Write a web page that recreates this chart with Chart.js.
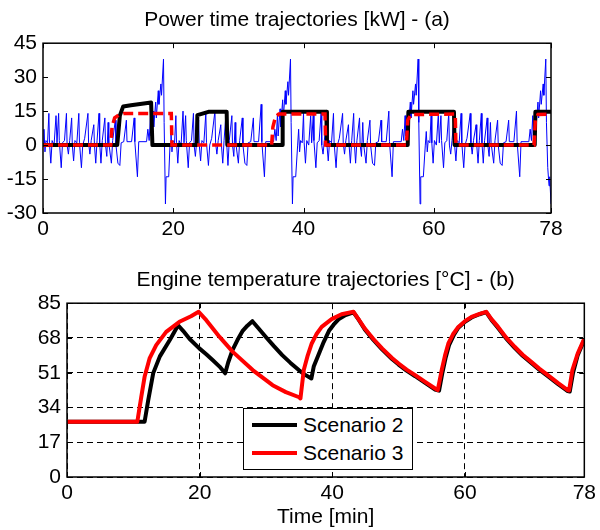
<!DOCTYPE html>
<html>
<head>
<meta charset="utf-8">
<script src="https://cdn.jsdelivr.net/npm/chart.js@4.4.1/dist/chart.umd.min.js"></script>
<style>
  body { margin: 0; background: #fff; }
  #wrap { position: relative; width: 600px; height: 530px; }
  canvas { position: absolute; left: 0; }
  #chartPower { top: 0; }
  #chartTemp { top: 260px; }
  #legendTemp {
    position: absolute; left: 243px; top: 408px; width: 170px; height: 62px;
    box-sizing: border-box; border: 1px solid #000; background: #fff;
    font-family: 'Liberation Sans', Arial, sans-serif; font-size: 21px; color: #000;
  }
  .legend-row { position: absolute; left: 8px; height: 26px; display: flex; align-items: center; }
  .legend-line { width: 45px; height: 4px; margin-right: 6px; }
</style>
</head>
<body>
<div id="wrap">
  <canvas id="chartPower" width="600" height="260"></canvas>
  <canvas id="chartTemp" width="600" height="270"></canvas>
  <div id="legendTemp"></div>
</div>
<script>
// ---- data ----
const xTicks = [0, 20, 40, 60, 78];
const powerTicks = [-30, -15, 0, 15, 30, 45];
const tempTicks = [0, 17, 34, 51, 68, 85];
const scenarioLabels = ['Scenario 2', 'Scenario 3'];

// power demand (thin blue), [min, kW]
const demandPoints = [
  [0,0],[0.15,7],[0.3,-3],[0.45,2],[0.7,1],[0.9,14],[1.0,1],[1.2,-8],[1.4,2],[1.7,0],
  [2.0,13],[2.15,1],[2.4,14],[2.5,2],[2.8,-10],[3.0,1],[3.3,2],[3.6,14],[3.7,0],[3.9,-4],
  [4.1,2],[4.4,12],[4.5,0],[4.7,-7],[4.9,2],[5.2,1],[5.5,14],[5.6,1],[5.9,-10],[6.1,0],
  [6.4,3],[6.9,14],[7.0,1],[7.2,-4],[7.4,2],[7.8,9],[7.9,0],[8.1,-8],[8.3,2],[8.6,14],
  [8.7,1],[8.9,-8],[9.1,2],[9.5,12],[9.6,0],[9.8,-5],[10.0,10],[10.1,1],[10.5,-8],[10.7,2],
  [11.1,11],[11.2,0],[11.5,-8],[11.8,-9],[12.0,1],[12.4,1.5],[12.8,11],[12.9,1.5],[13.6,1.5],[14.0,12],
  [14.1,1.5],[14.5,-14],[14.7,1.5],[15.9,1.5],[16.1,7],[16.3,2],[16.5,13],[16.6,4],[16.9,15],[17.0,8],
  [17.3,19],[17.4,12],[17.7,24],[17.8,18],[18.1,27],[18.2,22],[18.5,38],[18.6,10],[18.8,-26],[18.9,-14],
  [19.3,-14],[19.5,0],
  [19.65,6],[19.8,-3],[19.95,2],[20.2,1],[20.4,13],[20.5,1],[20.7,-8],[20.9,2],[21.2,0],
  [21.5,15],[21.65,1],[21.9,13],[22.0,2],[22.3,-10],[22.5,1],[22.8,2],[23.1,14],[23.2,0],[23.4,-5],
  [23.6,2],[23.9,11],[24.0,0],[24.2,-7],[24.4,2],[24.7,1],[25.0,14],[25.1,1],[25.4,-9],[25.6,0],
  [25.9,3],[26.4,15],[26.5,1],[26.7,-4],[26.9,2],[27.3,9],[27.4,0],[27.6,-8],[27.8,2],[28.1,14],
  [28.2,1],[28.4,-9],[28.6,2],[29.0,13],[29.1,0],[29.3,-5],[29.5,10],[29.6,1],[30.0,-8],[30.2,2],
  [30.6,12],[30.7,0],[31.0,-8],[31.3,-9],[31.5,1],[31.9,1.5],[32.3,12],[32.4,1.5],[33.1,1.5],[33.5,18],
  [33.6,1.5],[34.0,-14],[34.2,1.5],[35.4,1.5],[35.6,7],[35.8,2],[36.0,14],[36.1,4],[36.4,16],[36.5,8],
  [36.8,20],[36.9,12],[37.2,24],[37.3,18],[37.6,28],[37.7,22],[38.0,38],[38.1,10],[38.3,-26],[38.4,-14],
  [38.8,-14],[39.1,0],
  [39.25,7],[39.4,-3],[39.55,2],[39.8,1],[40.0,14],[40.1,1],[40.3,-8],[40.5,2],[40.8,0],
  [41.1,13],[41.25,1],[41.5,14],[41.6,2],[41.9,-10],[42.1,1],[42.4,2],[42.7,14],[42.8,0],[43.0,-4],
  [43.2,2],[43.5,12],[43.6,0],[43.8,-7],[44.0,2],[44.3,1],[44.6,14],[44.7,1],[45.0,-10],[45.2,0],
  [45.5,3],[46.0,14],[46.1,1],[46.3,-4],[46.5,2],[46.9,9],[47.0,0],[47.2,-8],[47.4,2],[47.7,14],
  [47.8,1],[48.0,-8],[48.2,2],[48.6,12],[48.7,0],[48.9,-5],[49.1,10],[49.2,1],[49.6,-8],[49.8,2],
  [50.2,11],[50.3,0],[50.6,-8],[50.9,-9],[51.1,1],[51.5,1.5],[51.9,11],[52.0,1.5],[52.7,1.5],[53.1,15],
  [53.2,1.5],[53.6,-14],[53.8,1.5],[55.0,1.5],[55.2,7],[55.4,2],[55.6,13],[55.7,4],[56.0,15],[56.1,8],
  [56.4,19],[56.5,12],[56.8,24],[56.9,18],[57.2,27],[57.3,22],[57.6,38],[57.7,10],[57.9,-26],[58.0,-14],
  [58.4,-14],[58.7,0],
  [58.85,6],[59.0,-3],[59.15,2],[59.4,1],[59.6,14],[59.7,1],[59.9,-8],[60.1,2],[60.4,0],
  [60.7,14],[60.85,1],[61.1,13],[61.2,2],[61.5,-10],[61.7,1],[62.0,2],[62.3,14],[62.4,0],[62.6,-4],
  [62.8,2],[63.1,12],[63.2,0],[63.4,-7],[63.6,2],[63.9,1],[64.2,14],[64.3,1],[64.6,-10],[64.8,0],
  [65.1,3],[65.6,14],[65.7,1],[65.9,-4],[66.1,2],[66.5,9],[66.6,0],[66.8,-8],[67.0,2],[67.3,14],
  [67.4,1],[67.6,-8],[67.8,2],[68.2,12],[68.3,0],[68.5,-5],[68.7,10],[68.8,1],[69.2,-8],[69.4,2],
  [69.8,11],[69.9,0],[70.2,-8],[70.5,-9],[70.7,1],[71.1,1.5],[71.5,11],[71.6,1.5],[72.3,1.5],[72.7,15],
  [72.8,1.5],[73.2,-14],[73.4,1.5],[74.6,1.5],[74.8,7],[75.0,2],[75.2,13],[75.3,4],[75.6,15],[75.7,8],
  [76.0,19],[76.1,12],[76.4,24],[76.5,18],[76.8,27],[76.9,22],[77.2,38],[77.3,10],[77.5,-10],[77.7,-18],
  [77.8,-14],[78.0,-26]
];

// engine power, scenario 2 (black) and scenario 3 (red dashed)
const enginePower2 = [
  [0,0],[11.4,0],[11.8,13],[12.3,17],[13.5,17.6],[16.6,18.8],[16.8,0],[23.6,0],[23.7,13.2],[25.4,14.7],
  [28.2,14.7],[28.3,0],[36.7,0],[36.8,14.7],[43.5,14.7],[43.6,0],[56.0,0],[56.1,14.7],[63.1,14.7],[63.2,0],
  [75.5,0],[75.6,14.7],[78,14.7]
];
const enginePower3 = [
  [0,0],[10.4,0],[10.6,8],[11.0,12],[11.6,13.2],[12.5,14.0],[19.7,14.0],[19.8,0],[35.1,0],[35.3,8],
  [35.7,12.5],[36.2,13.7],[43.3,13.7],[43.4,0],[55.8,0],[56.0,11],[56.5,13.5],[63.3,13.7],[63.4,0],[75.4,0],
  [75.6,11],[76.0,13.5],[78,13.7]
];

// engine temperature [°C]
const engineTemp2 = [
  [0,27],[11.7,27],[12.25,37.6],[13.0,50.8],[14.0,59],[15.5,67],[16.75,74.2],[17.5,71.5],[18.5,67.5],[19.95,62.9],
  [21.0,60],[21.95,57.2],[23.0,54],[23.85,50.7],[24.3,56],[24.95,62],[25.7,67],[26.45,71.3],[27.2,74],[27.95,76.2],
  [28.8,73],[29.95,68.6],[31.2,64],[32.45,59.6],[33.7,55.8],[34.95,52.3],[35.8,50.2],[36.85,48.2],[37.2,54],[38.0,60.4],
  [38.7,66],[39.5,71.5],[40.2,74.5],[41.0,77.3],[42.0,79.2],[43.2,80.5],[44.0,76.8],[44.9,72.2],[46.2,67],[47.5,62.4],
  [49.0,57.7],[50.0,55],[51.2,52],[52.5,49.3],[54.0,46],[55.5,42.8],[56.1,42.2],[56.6,51],[57.1,58.5],[57.6,64.5],
  [58.3,69.3],[59.0,73],[60.0,75.9],[61.0,78],[62.2,79.6],[63.2,80.6],[64.0,76.8],[65.0,72.9],[66.2,67.8],[67.5,63.2],
  [68.7,59.3],[70.0,55.8],[71.2,52.5],[72.5,49.3],[74.0,45.5],[75.5,42.0],[75.8,41.8],[76.3,51],[77.0,59.5],[78,67.2]
];
const engineTemp3 = [
  [0,27],[10.6,27],[11.2,39.2],[11.7,49],[12.45,58],[13.45,64.5],[14.95,71],[16.95,75.9],[18.7,78.6],[19.85,80.8],
  [21.0,76.7],[23.0,68.5],[25.0,61.2],[28.0,52.3],[31.0,44.9],[33.0,41.5],[35.0,39.0],[35.2,38.4],[35.7,52.3],[36.3,59.5],
  [36.9,65.3],[37.6,69.8],[38.4,73.4],[39.9,77.2],[41.4,79.6],[43.2,80.8],[44.0,77],[44.9,72.6],[46.2,67.5],[47.5,62.9],
  [49.0,58.2],[50.0,55.5],[51.2,52.5],[52.5,49.8],[54.0,46.5],[55.5,43.3],[55.9,42.5],[56.5,52.3],[57.0,59.5],[57.5,65.3],
  [58.2,69.8],[59.0,73.4],[60.0,76.2],[61.0,78.3],[62.2,79.8],[63.2,80.8],[64.0,77.2],[65.0,73.4],[66.2,68.3],[67.5,63.7],
  [68.7,59.8],[70.0,56.3],[71.2,53],[72.5,49.8],[74.0,46],[75.5,42.5],[75.7,42.3],[76.2,52.3],[77.0,60.4],[78,67.7]
];

const fontFamily = "'Liberation Sans', Arial, Helvetica, sans-serif";
const toXY = pts => pts.map(p => ({ x: p[0], y: p[1] }));

// MATLAB-like box with inward ticks on all four sides
const matlabBox = {
  id: 'matlabBox',
  afterDraw(chart) {
    const { ctx, chartArea: a, scales: { x, y } } = chart;
    ctx.save();
    ctx.setLineDash([]);
    ctx.strokeStyle = '#000';
    ctx.lineWidth = 1;
    ctx.beginPath();
    x.ticks.forEach(t => {
      const px = Math.round(x.getPixelForValue(t.value)) + 0.5;
      ctx.moveTo(px, a.bottom); ctx.lineTo(px, a.bottom - 5);
      ctx.moveTo(px, a.top); ctx.lineTo(px, a.top + 5);
    });
    y.ticks.forEach(t => {
      const py = Math.round(y.getPixelForValue(t.value)) + 0.5;
      ctx.moveTo(a.left, py); ctx.lineTo(a.left + 5, py);
      ctx.moveTo(a.right, py); ctx.lineTo(a.right - 5, py);
    });
    ctx.stroke();
    ctx.lineWidth = 1.5;
    ctx.strokeRect(a.left, a.top, a.right - a.left, a.bottom - a.top);
    ctx.restore();
  }
};

function xScale(height, withTitle, showGrid) {
  return {
    type: 'linear',
    min: 0,
    max: 78,
    afterBuildTicks: axis => { axis.ticks = xTicks.map(v => ({ value: v })); },
    afterFit: axis => { axis.height = height; },
    ticks: { autoSkip: false, maxRotation: 0, padding: 4, color: '#000', font: { size: 21, family: fontFamily } },
    grid: { display: showGrid, color: '#000', lineWidth: 1, drawTicks: false, borderDash: [6, 4] },
    border: { display: false, dash: [6, 4] },
    title: {
      display: withTitle,
      text: 'Time [min]',
      color: '#000',
      font: { size: 21, family: fontFamily },
      padding: { top: 0, bottom: 0 }
    }
  };
}

function yScale(width, min, max, ticks, showGrid) {
  return {
    min: min,
    max: max,
    afterBuildTicks: axis => { axis.ticks = ticks.map(v => ({ value: v })); },
    afterFit: axis => { axis.width = width; },
    ticks: { padding: 6, color: '#000', font: { size: 21, family: fontFamily } },
    grid: { display: showGrid, color: '#000', lineWidth: 1, drawTicks: false, borderDash: [6, 4] },
    border: { display: false, dash: [6, 4] }
  };
}

function titleOpts(text) {
  return {
    display: true,
    text: text,
    fullSize: false,
    color: '#000',
    font: { size: 21, weight: 'normal', family: fontFamily },
    padding: { top: 8, bottom: 10 }
  };
}

// ---- (a) power ----
const ctxPower = document.getElementById('chartPower').getContext('2d');
const chartPower = new Chart(ctxPower, {
  type: 'line',
  data: {
    datasets: [{
      label: scenarioLabels[1],
      data: toXY(enginePower3),
      borderColor: '#ff0000',
      borderWidth: 3.5,
      borderDash: [10, 5],
      order: 0
    }, {
      label: scenarioLabels[0],
      data: toXY(enginePower2),
      borderColor: '#000000',
      borderWidth: 4,
      borderJoinStyle: 'round',
      order: 1
    }, {
      label: 'Power demand',
      data: toXY(demandPoints),
      borderColor: '#0000ff',
      borderWidth: 1,
      order: 2
    }]
  },
  options: {
    responsive: false,
    animation: false,
    devicePixelRatio: 1,
    layout: { padding: { left: 0, right: 49, top: 0, bottom: 0 } },
    elements: { point: { radius: 0 }, line: { tension: 0 } },
    plugins: {
      legend: { display: false },
      tooltip: { enabled: false },
      title: titleOpts('Power time trajectories [kW] - (a)')
    },
    scales: {
      x: xScale(47, false, false),
      y: yScale(43, -30, 45, powerTicks, false)
    }
  },
  plugins: [matlabBox]
});

// ---- (b) temperature ----
const ctxTemp = document.getElementById('chartTemp').getContext('2d');
const chartTemp = new Chart(ctxTemp, {
  type: 'line',
  data: {
    datasets: [{
      label: scenarioLabels[0],
      data: toXY(engineTemp2),
      borderColor: '#000000',
      borderWidth: 4,
      borderJoinStyle: 'round',
      order: 1
    }, {
      label: scenarioLabels[1],
      data: toXY(engineTemp3),
      borderColor: '#ff0000',
      borderWidth: 4,
      borderJoinStyle: 'round',
      order: 0
    }]
  },
  options: {
    responsive: false,
    animation: false,
    devicePixelRatio: 1,
    layout: { padding: { left: 0, right: 13, top: 0, bottom: 0 } },
    elements: { point: { radius: 0 }, line: { tension: 0 } },
    plugins: {
      legend: { display: false },
      tooltip: { enabled: false },
      title: titleOpts('Engine temperature trajectories [°C] - (b)')
    },
    scales: {
      x: xScale(53, true, true),
      y: yScale(67, 0, 85, tempTicks, true)
    }
  },
  plugins: [matlabBox]
});

// legend box inside the lower axes
const legendBox = document.getElementById('legendTemp');
chartTemp.data.datasets.forEach((ds, i) => {
  const row = document.createElement('div');
  row.className = 'legend-row';
  row.style.top = (3 + i * 28) + 'px';
  const line = document.createElement('span');
  line.className = 'legend-line';
  line.style.background = ds.borderColor;
  const label = document.createElement('span');
  label.textContent = ds.label;
  row.appendChild(line);
  row.appendChild(label);
  legendBox.appendChild(row);
});
</script>
</body>
</html>
